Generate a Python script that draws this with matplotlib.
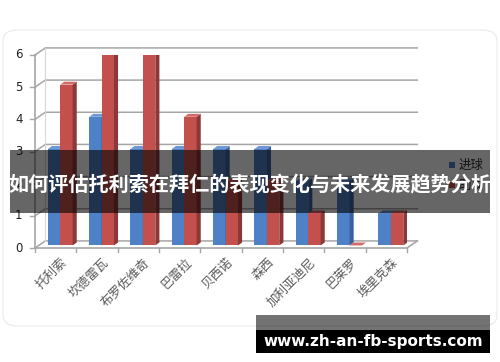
import numpy as np
import matplotlib
matplotlib.use('Agg')
from matplotlib import pyplot as plt
from matplotlib.patches import Polygon, Rectangle, FancyBboxPatch

plt.rcParams['font.family'] = ['Noto Sans CJK SC', 'DejaVu Sans']

# Data
players = ['托利索', '坎德雷瓦', '布罗佐维奇', '巴雷拉', '贝西诺', '森西', '加利亚迪尼', '巴莱罗', '埃里克森']
goals = [3, 4, 3, 3, 3, 3, 2, 2, 1]
assists = [5, 6, 6, 4, 2, 2, 1, 0, 1]
series_names = ['进球', '助攻']
yticks = [0, 1, 2, 3, 4, 5, 6]

title = '如何评估托利索在拜仁的表现变化与未来发展趋势分析'
watermark = 'www.zh-an-fb-sports.com'

W, H = 500, 362
fig = plt.figure(figsize=(W/100, H/100), dpi=100)

def fx(px):  # pixel x -> figure fraction
    return px / W

def fy(py):  # pixel y (from top) -> figure fraction
    return 1 - py / H

# outer chart frame (faint, rounded)
frame = FancyBboxPatch((fx(3), fy(326)), fx(494), fy(30) - fy(326),
                       boxstyle='round,pad=0,rounding_size=0.03',
                       transform=fig.transFigure, fc='none', ec='#ececec', lw=0.9)
fig.patches.append(frame)

ax = fig.add_axes([fx(35), fy(248), fx(407) - fx(35), fy(55) - fy(248)])
ax.set_xlim(-0.5, len(players) - 0.5)
ax.set_ylim(0, 6)
ax.axis('off')

# 3D wall / floor depth (data units)
wdx, wdy = 0.25, 0.22
# bar depth
bdx, bdy = 0.1, 0.09
base = 0.08
bw = 0.3

x0, x1 = -0.5, len(players) - 0.5
gcol = '#a6a6a6'

# gridlines on back wall, with diagonal on side wall
for v in yticks:
    ax.plot([x0, x0 + wdx, x1 + wdx], [v, v + wdy, v + wdy], color=gcol, lw=1.1,
            clip_on=False, zorder=1)
    ax.plot([x0 - 0.12, x0], [v, v], color=gcol, lw=1.0, clip_on=False, zorder=1)
    ax.text(x0 - 0.3, v, str(v), ha='right', va='center', fontsize=8.5,
            color='#222222', family='DejaVu Sans')

# axis lines and floor
ax.plot([x0, x0], [0, 6], color=gcol, lw=1.2, clip_on=False, zorder=1)
ax.plot([x0 + wdx, x0 + wdx], [wdy, 6 + wdy], color='#d8d8d8', lw=0.8, clip_on=False, zorder=1)
ax.plot([x0, x1, x1 + wdx], [0, 0, wdy], color=gcol, lw=1.2, clip_on=False, zorder=1)
for i in range(len(players) + 1):
    ax.plot([x0 + i, x0 + i], [0, -0.13], color=gcol, lw=1.0, clip_on=False, zorder=1)

colors = [('#4f81c7', '#3b62a0', '#6b96d2'),
          ('#c4504d', '#8c3836', '#d46a67')]

def bar3d(xl, h, cols):
    front, side, top = cols
    yb = base
    yt = base + h
    ax.add_patch(Rectangle((xl, yb), bw, h, fc=front, ec='none', zorder=3))
    ax.add_patch(Polygon([(xl + bw, yb), (xl + bw + bdx, yb + bdy),
                          (xl + bw + bdx, yt + bdy), (xl + bw, yt)],
                         closed=True, fc=side, ec='none', zorder=3))
    ax.add_patch(Polygon([(xl, yt), (xl + bdx, yt + bdy),
                          (xl + bw + bdx, yt + bdy), (xl + bw, yt)],
                         closed=True, fc=top, ec='none', zorder=3))

for i in range(len(players)):
    bar3d(i - 0.19, goals[i], colors[0])
    bar3d(i + 0.11, assists[i], colors[1])

# category labels
for i, name in enumerate(players):
    ax.text(i + 0.12, -0.25, name, rotation=45, rotation_mode='anchor',
            ha='right', va='top', fontsize=9, color='#5a5a5a')

# legend
for k, (nm, c) in enumerate(zip(series_names, [colors[0][0], colors[1][0]])):
    yy = 165 + k * 20
    fig.patches.append(Rectangle((fx(449), fy(yy + 3)), fx(6), fy(yy - 3) - fy(yy + 3),
                                 transform=fig.transFigure, fc=c, ec='none'))
    fig.text(fx(459), fy(yy), nm, ha='left', va='center', fontsize=9, color='#333333')

# title banner overlay
fig.patches.append(Rectangle((fx(10), fy(213)), fx(480), fy(150) - fy(213),
                             transform=fig.transFigure, fc='black', alpha=0.6,
                             ec='none', zorder=10))
fig.text(0.5, fy(185), title, ha='center', va='center', fontsize=14.5,
         fontweight='bold', color='white', zorder=11)

# watermark
fig.patches.append(Rectangle((fx(256), fy(330)), fx(234), fy(315) - fy(330),
                             transform=fig.transFigure, fc='black', alpha=0.55,
                             ec='none', zorder=10))
fig.patches.append(Rectangle((fx(256), fy(353)), fx(234), fy(330) - fy(353),
                             transform=fig.transFigure, fc='black', ec='none', zorder=10))
fig.text(fx(373), fy(341.5), watermark, ha='center', va='center', fontsize=11,
         fontweight='bold', color='white', family='DejaVu Sans', zorder=11)

fig.savefig('out.png', dpi=100)
